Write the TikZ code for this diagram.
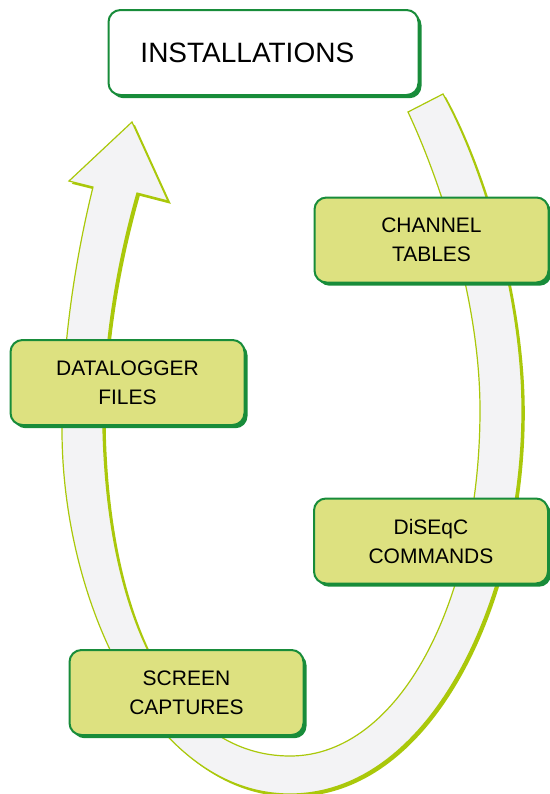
\documentclass[tikz,border=0pt]{standalone}
\usepackage{fontspec}
\setmainfont{Liberation Sans}
\usetikzlibrary{shadows}
\definecolor{boxgreen}{RGB}{24, 140, 58}
\definecolor{boxfill}{RGB}{221, 225, 128}
\definecolor{bandfill}{RGB}{243, 243, 245}
\definecolor{bandline}{RGB}{170, 200, 10}

\begin{document}
\begin{tikzpicture}[
    x=0.5pt, y=-0.5pt,
    topic/.style={rectangle, draw=boxgreen, line width=1pt, fill=boxfill,
                  rounded corners=6pt, minimum width=117pt, minimum height=42.5pt,
                  align=center, font=\fontsize{10.5}{14.5}\selectfont,
                  drop shadow={shadow xshift=1.5pt, shadow yshift=-1.6pt,
                               fill=boxgreen, opacity=1}},
    title/.style={topic, fill=white, text width=123pt, inner xsep=16pt,
                  align=left, font=\fontsize{14}{17}\selectfont},
    band/.style={fill=bandfill, draw=bandline, line width=0.6pt,
                 drop shadow={shadow xshift=1.4pt, shadow yshift=-1.4pt,
                              fill=bandline, opacity=1}}
]
    \useasboundingbox (0,0) rectangle (550,794);

    % curved arrow behind the boxes
    \path[band] (443,94) .. controls (485,170) and (522,300) .. (522,410)
        .. controls (522,600) and (430,794) .. (290,794)
        .. controls (150,794) and (62,600) .. (62,430)
        .. controls (62,330) and (80,240) .. (93,187)
        -- (69,181) -- (132,122) -- (168,201) -- (137,193)
        .. controls (118,260) and (103,340) .. (103,430)
        .. controls (108,630) and (180,756) .. (290,756)
        .. controls (400,756) and (480,600) .. (480,410)
        .. controls (480,300) and (440,180) .. (408,112) -- cycle;

    \node[title] (install) at (263.5,52.5) {INSTALLATIONS};
    \node[topic] (channel) at (431.5,240) {CHANNEL\\TABLES};
    \node[topic] (logger) at (127.5,382.5) {DATALOGGER\\FILES};
    \node[topic] (diseqc) at (431,541) {DiSEqC\\COMMANDS};
    \node[topic] (screen) at (186.5,692.5) {SCREEN\\CAPTURES};
\end{tikzpicture}
\end{document}
